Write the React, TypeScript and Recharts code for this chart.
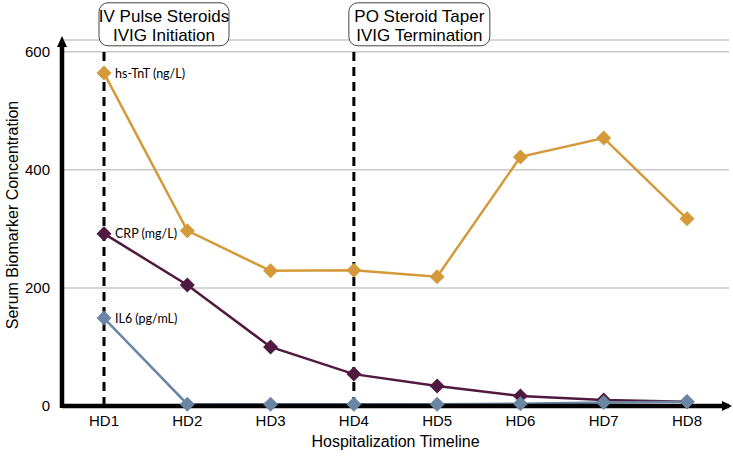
import React from 'react';
import { LineChart, Line, XAxis, YAxis, CartesianGrid, ReferenceLine, Label, LabelList } from 'recharts';

const days = ['HD1', 'HD2', 'HD3', 'HD4', 'HD5', 'HD6', 'HD7', 'HD8'];
const hsTnT = [564, 297, 229, 230, 219, 422, 454, 317];
const crp = [292, 205, 100, 54, 34, 17, 10, 7];
const il6 = [149, 3, 3, 3, 3, 4, 6, 7];
const yTicks = [0, 200, 400, 600];

const events = [
  { day: 'HD1', lines: ['IV Pulse Steroids', 'IVIG Initiation'], boxW: 130 },
  { day: 'HD4', lines: ['PO Steroid Taper', 'IVIG Termination'], boxW: 141 },
];

const series = [
  { key: 'tnt', name: 'hs-TnT (ng/L)', color: '#D49A3A' },
  { key: 'crp', name: 'CRP (mg/L)', color: '#501A40' },
  { key: 'il6', name: 'IL6 (pg/mL)', color: '#6B86A4' },
];

const data = days.map((day, i) => ({ day, tnt: hsTnT[i], crp: crp[i], il6: il6[i] }));

const FONT = '"Liberation Sans", Arial, sans-serif';

const diamond = (color: string) => (props: any) => {
  const { cx, cy, index } = props;
  if (cx == null || cy == null) return <g key={index} />;
  const r = 7.5;
  return (
    <polygon
      key={index}
      points={`${cx},${cy - r} ${cx + r},${cy} ${cx},${cy + r} ${cx - r},${cy}`}
      fill={color}
    />
  );
};

const firstLabel = (text: string) => (props: any) => {
  const { x, y, index } = props;
  if (index !== 0) return null;
  return (
    <text x={x + 11} y={y} dominantBaseline="central" fontFamily="Lato, sans-serif" fontSize={12.5} fill="#000">
      {text}
    </text>
  );
};

const eventBox = (lines: string[], boxW: number) => (props: any) => {
  const { viewBox } = props;
  const x = viewBox.x - 5;
  const top = viewBox.y - 49;
  return (
    <g>
      <rect x={x} y={top} width={boxW} height={43} rx={9} ry={9} fill="#fff" stroke="#444" strokeWidth={1} />
      <text x={x + boxW / 2} y={top + 19} textAnchor="middle" fontFamily={FONT} fontSize={17} fill="#000">
        {lines[0]}
      </text>
      <text x={x + boxW / 2} y={top + 38} textAnchor="middle" fontFamily={FONT} fontSize={17} fill="#000">
        {lines[1]}
      </text>
    </g>
  );
};

const App: React.FC = () => {
  return (
    <div style={{ position: 'absolute', left: 0, top: 0, fontFamily: FONT, background: '#fff' }}>
      <LineChart width={733} height={459} data={data} margin={{ top: 40, right: 4, bottom: 0, left: 0 }}>
        <CartesianGrid vertical={false} stroke="#c8c8c8" strokeWidth={1.5} />
        <XAxis
          dataKey="day"
          height={53}
          padding={{ left: 42, right: 42 }}
          axisLine={false}
          tickLine={false}
          tickMargin={3}
          tick={{ fill: '#000', fontSize: 15, fontFamily: FONT }}
        >
          <Label value="Hospitalization Timeline" position="insideBottom" offset={12} fill="#000" fontSize={16} fontFamily={FONT} />
        </XAxis>
        <YAxis
          width={62}
          domain={[0, 620]}
          ticks={yTicks}
          axisLine={false}
          tickLine={false}
          tickMargin={6}
          tick={{ fill: '#000', fontSize: 15, fontFamily: FONT }}
        >
          <Label
            content={(p: any) => {
              const vb = p.viewBox;
              const cx = vb.x + 12;
              const cy = vb.y + vb.height / 2 - 8;
              return (
                <text
                  transform={`translate(${cx}, ${cy}) rotate(-90)`}
                  textAnchor="middle"
                  dominantBaseline="central"
                  fontFamily={FONT}
                  fontSize={16}
                  fill="#000"
                >
                  Serum Biomarker Concentration
                </text>
              );
            }}
          />
        </YAxis>

        {events.map((ev) => (
          <ReferenceLine
            key={ev.day}
            segment={[{ x: ev.day, y: 0 }, { x: ev.day, y: 600 }]}
            stroke="#000"
            strokeWidth={3}
            strokeDasharray="9 6"
          >
            <Label position="top" content={eventBox(ev.lines, ev.boxW)} />
          </ReferenceLine>
        ))}

        {series.map((s) => (
          <Line
            key={s.key}
            dataKey={s.key}
            stroke={s.color}
            strokeWidth={2.5}
            dot={diamond(s.color)}
            activeDot={false}
            isAnimationActive={false}
          >
            <LabelList dataKey={s.key} content={firstLabel(s.name)} />
          </Line>
        ))}

        {/* axes with arrow heads (drawn after series so they sit on top) */}
        <ReferenceLine
          y={0}
          ifOverflow="visible"
          shape={(p: any) => (
            <g>
              <line x1={p.x1} y1={p.y1} x2={p.x2} y2={p.y2} stroke="#000" strokeWidth={4.5} />
              <polygon points={`${p.x2 + 3},${p.y1} ${p.x2 - 7},${p.y1 - 5} ${p.x2 - 7},${p.y1 + 5}`} fill="#000" />
            </g>
          )}
        />
        <ReferenceLine
          segment={[{ x: 'HD1', y: 0 }, { x: 'HD1', y: 620 }]}
          ifOverflow="visible"
          shape={(p: any) => {
            // axis sits on the plot's left edge, half a category step left of HD1
            const x = p.x1 - 42;
            const top = Math.min(p.y1, p.y2);
            const bottom = Math.max(p.y1, p.y2);
            return (
              <g>
                <line x1={x} y1={bottom + 2} x2={x} y2={top + 4} stroke="#000" strokeWidth={4.5} />
                <polygon points={`${x},${top - 4} ${x - 5},${top + 7} ${x + 5},${top + 7}`} fill="#000" />
              </g>
            );
          }}
        />
      </LineChart>
    </div>
  );
};

export default App;
